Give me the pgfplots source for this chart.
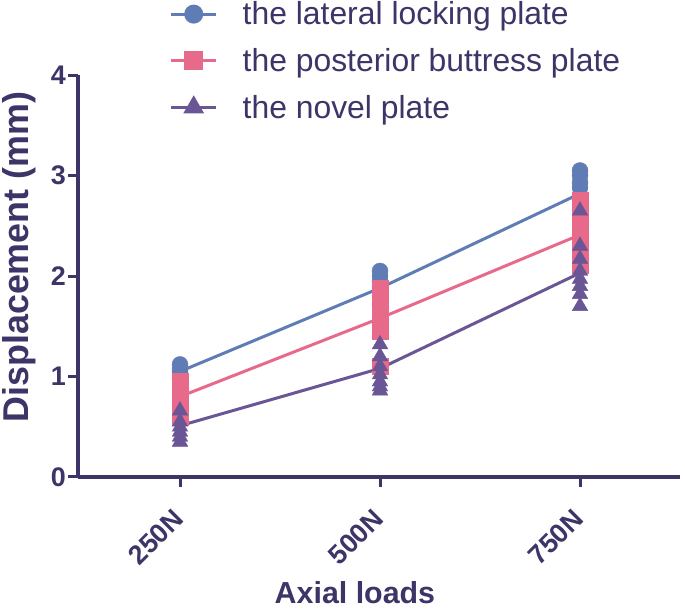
\documentclass[border=0pt]{standalone}
\usepackage{fontspec}
\setmainfont{Liberation Sans}
\usepackage{pgfplots}
\pgfplotsset{compat=1.18}
\definecolor{cblue}{HTML}{5F7DB4}
\definecolor{cpink}{HTML}{E86A8B}
\definecolor{cpurp}{HTML}{6A5595}
\definecolor{ctext}{HTML}{3E3467}
\begin{document}
\begin{tikzpicture}
\begin{axis}[
  scale only axis, width=602bp, height=402bp,
  xmin=-0.51, xmax=2.5, ymin=0, ymax=4,
  axis lines*=left,
  axis line style={ctext, line width=3.5bp},
  tick style={ctext, line width=3bp},
  tick align=outside, major tick length=10bp,
  xtick={0,1,2}, xticklabels={250N,500N,750N},
  ytick={0,1,2,3,4},
  /pgf/number format/assume math mode=true,
  yticklabel style={font=\bfseries\fontsize{27}{27}\selectfont, text=ctext, inner sep=2bp},
  xticklabel style={font=\bfseries\fontsize{27}{27}\selectfont, text=ctext, rotate=45, anchor=east, inner sep=2bp},
  xticklabel shift=26bp,
  xlabel={Axial loads}, ylabel={Displacement (mm)},
  xlabel style={font=\bfseries\fontsize{30.5}{30.5}\selectfont, text=ctext, at={(axis description cs:0.46,-0.287)}, anchor=center},
  ylabel style={font=\bfseries\fontsize{36}{36}\selectfont, text=ctext, at={(axis description cs:-0.098,0.547)}, anchor=center},
  legend cell align=left,
  legend style={at={(axis description cs:0.152,1.19)}, anchor=north west, draw=none, fill=none,
    font=\fontsize{32}{32}\selectfont, text=ctext, row sep=16bp, inner sep=0pt,
    nodes={inner sep=3bp}, column sep=22bp},
  legend image code/.code={\draw[mark repeat=2,mark phase=2] plot coordinates {(0bp,0bp) (22.5bp,0bp) (45bp,0bp)};},
  clip=false,
]
\coordinate (bbl) at (rel axis cs:-0.1296,-0.3284);
\coordinate (btr) at (rel axis cs:1.0083,1.1866);
% mean lines
\addplot[cblue, line width=3bp, forget plot] coordinates {(0,1.05) (1,1.88) (2,2.82)};
\addplot[cpink, line width=3bp, forget plot] coordinates {(0,0.80) (1,1.58) (2,2.41)};
\addplot[cpurp, line width=3bp, forget plot] coordinates {(0,0.51) (1,1.08) (2,2.03)};
% individual points
\addplot[only marks, mark=*, mark size=8bp, mark options={fill=cblue, draw=cblue}, forget plot] coordinates {
(0,1.12) (0,1.08) (0,1.05) (0,1.02) (0,0.98)
(1,2.05) (1,2.00) (1,1.95) (1,1.88) (1,1.80) (1,1.72)
(2,3.05) (2,3.00) (2,2.93) (2,2.88) (2,2.80) (2,2.65)};
\addplot[only marks, mark=square*, mark size=8bp, mark options={fill=cpink, draw=cpink}, forget plot] coordinates {
(0,0.95) (0,0.88) (0,0.80) (0,0.72) (0,0.65) (0,0.60)
(1,1.88) (1,1.80) (1,1.70) (1,1.60) (1,1.52) (1,1.45) (1,1.10)
(2,2.75) (2,2.65) (2,2.55) (2,2.45) (2,2.30) (2,2.20) (2,2.11)};
\addplot[only marks, mark=triangle*, mark size=9bp, mark options={fill=cpurp, draw=cpurp}, forget plot] coordinates {
(0,0.66) (0,0.55) (0,0.50) (0,0.45) (0,0.40) (0,0.35)
(1,1.32) (1,1.20) (1,1.10) (1,1.02) (1,0.95) (1,0.90) (1,0.86)
(2,2.65) (2,2.30) (2,2.17) (2,2.05) (2,1.97) (2,1.90) (2,1.82) (2,1.70)};
\addlegendimage{cblue, line width=3bp, mark=*, mark size=8bp, mark options={fill=cblue}}
\addlegendentry{the lateral locking plate}
\addlegendimage{cpink, line width=3bp, mark=square*, mark size=8bp, mark options={fill=cpink}}
\addlegendentry{the posterior buttress plate}
\addlegendimage{cpurp, line width=3bp, mark=triangle*, mark size=9bp, mark options={fill=cpurp}}
\addlegendentry{the novel plate}
\end{axis}
\pgfresetboundingbox
\path[use as bounding box] (bbl) rectangle (btr);
\end{tikzpicture}
\end{document}
